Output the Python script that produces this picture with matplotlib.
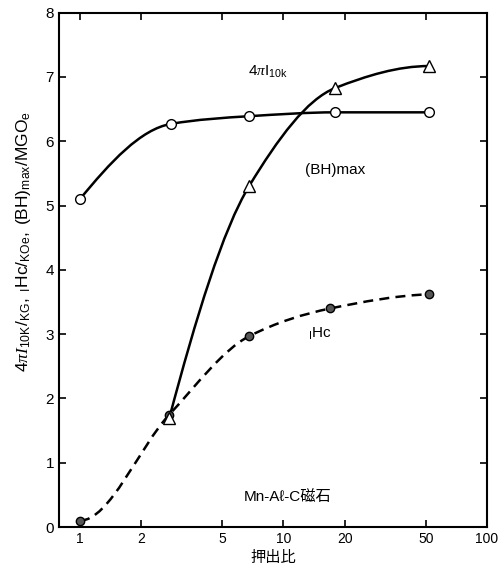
import numpy as np
import matplotlib
matplotlib.use('Agg')
import matplotlib.pyplot as plt
from matplotlib.path import Path
from matplotlib.patches import PathPatch

plt.rcParams['font.family'] = ['Liberation Sans Narrow', 'Liberation Sans', 'Noto Sans CJK JP', 'DejaVu Sans']
plt.rcParams['mathtext.fontset'] = 'custom'
plt.rcParams['mathtext.rm'] = 'Liberation Sans'
plt.rcParams['mathtext.it'] = 'Liberation Serif:italic'

# 押出比 vs 磁気特性 (Mn-Al-C)
ratio_I = [1, 2.8, 6.8, 18, 52]
val_I = [5.1, 6.27, 6.39, 6.45, 6.45]          # 4πI10k
ratio_BH = [2.75, 6.8, 18, 52]
val_BH = [1.7, 5.31, 6.83, 7.17]                # (BH)max
ratio_Hc = [1, 2.75, 6.8, 17, 52]
val_Hc = [0.1, 1.75, 2.97, 3.4, 3.62]           # iHc
xticks = [1, 2, 5, 10, 20, 50, 100]
yticks = [0, 1, 2, 3, 4, 5, 6, 7, 8]


def smooth_path(xs, ys, flat_start=False):
    # monotone (pchip-style) tangents -> bezier segments, in log10(x)
    lx = np.log10(xs)
    y = np.asarray(ys, float)
    n = len(lx)
    h = np.diff(lx)
    d = np.diff(y) / h
    m = np.zeros(n)
    for i in range(1, n - 1):
        if d[i - 1] * d[i] > 0:
            w1 = 2 * h[i] + h[i - 1]
            w2 = h[i] + 2 * h[i - 1]
            m[i] = (w1 + w2) / (w1 / d[i - 1] + w2 / d[i])
    m[0] = ((2 * h[0] + h[1]) * d[0] - h[0] * d[1]) / (h[0] + h[1])
    if m[0] * d[0] <= 0:
        m[0] = 0.0
    m[-1] = ((2 * h[-1] + h[-2]) * d[-1] - h[-1] * d[-2]) / (h[-1] + h[-2])
    if m[-1] * d[-1] <= 0:
        m[-1] = 0.0
    if flat_start:
        m[0] = 0.0
    verts = [(lx[0], y[0])]
    codes = [Path.MOVETO]
    for i in range(n - 1):
        verts += [(lx[i] + h[i] / 3, y[i] + m[i] * h[i] / 3),
                  (lx[i + 1] - h[i] / 3, y[i + 1] - m[i + 1] * h[i] / 3),
                  (lx[i + 1], y[i + 1])]
        codes += [Path.CURVE4] * 3
    verts = [(10 ** vx, vy) for vx, vy in verts]
    return Path(verts, codes)


fig = plt.figure(figsize=(4.99, 5.76), dpi=100)
ax = fig.add_axes([0.118, 0.085, 0.858, 0.893])
ax.set_xscale('log')

ax.add_patch(PathPatch(smooth_path(ratio_I, val_I), fill=False, lw=1.8, color='black', zorder=2))
ax.add_patch(PathPatch(smooth_path(ratio_BH, val_BH), fill=False, lw=1.8, color='black', zorder=2))
ax.add_patch(PathPatch(smooth_path(ratio_Hc, val_Hc, flat_start=True), fill=False, lw=1.8,
                       color='black', ls=(0, (4, 2.5)), zorder=2))

ax.plot(ratio_Hc, val_Hc, 'o', ms=6, mfc='#555555', mec='black', mew=1.0, zorder=3)
ax.plot(ratio_I, val_I, 'o', ms=7, mfc='white', mec='black', mew=1.0, zorder=4)
ax.plot(ratio_BH, val_BH, '^', ms=8, mfc='white', mec='black', mew=1.0, zorder=4)

ax.text(6.7, 7.08, r'$4\pi\mathrm{I}_{\mathrm{10k}}$', fontsize=11, va='center')
ax.text(12.8, 5.55, '(BH)max', fontsize=11, va='center')
ax.text(13.2, 3.0, r'$_{\mathrm{I}}$Hc', fontsize=11, va='center')
ax.text(6.4, 0.47, 'Mn-A\u2113-C磁石', fontsize=11, va='center',
        family=['Liberation Sans', 'Noto Sans CJK JP', 'DejaVu Sans'])

ax.set_xlim(0.788, 100)
ax.set_ylim(0, 8)
ax.set_xticks(xticks)
ax.set_xticklabels([str(t) for t in xticks])
ax.xaxis.set_minor_locator(matplotlib.ticker.NullLocator())
ax.set_yticks(yticks)
ax.tick_params(direction='in', top=True, right=True, labelsize=11, length=5, width=1.2)
ax.tick_params(axis='x', labelsize=10)
for sp in ax.spines.values():
    sp.set_linewidth(1.5)

ax.set_xlabel('押出比', fontsize=11, family=['Noto Sans CJK JP', 'DejaVu Sans'], labelpad=2)
ax.set_ylabel(r'$4\pi\mathit{I}_{\mathrm{10K}}/_{\mathrm{KG}},\ _{\mathrm{I}}\mathrm{Hc}/_{\mathrm{KOe}},\ '
              r'(\mathrm{BH})_{\mathrm{max}}/\mathrm{MGO}_{\mathrm{e}}$', fontsize=12.5)
ax.yaxis.set_label_coords(-0.06, 0.555)

fig.savefig('out.png', dpi=100)
